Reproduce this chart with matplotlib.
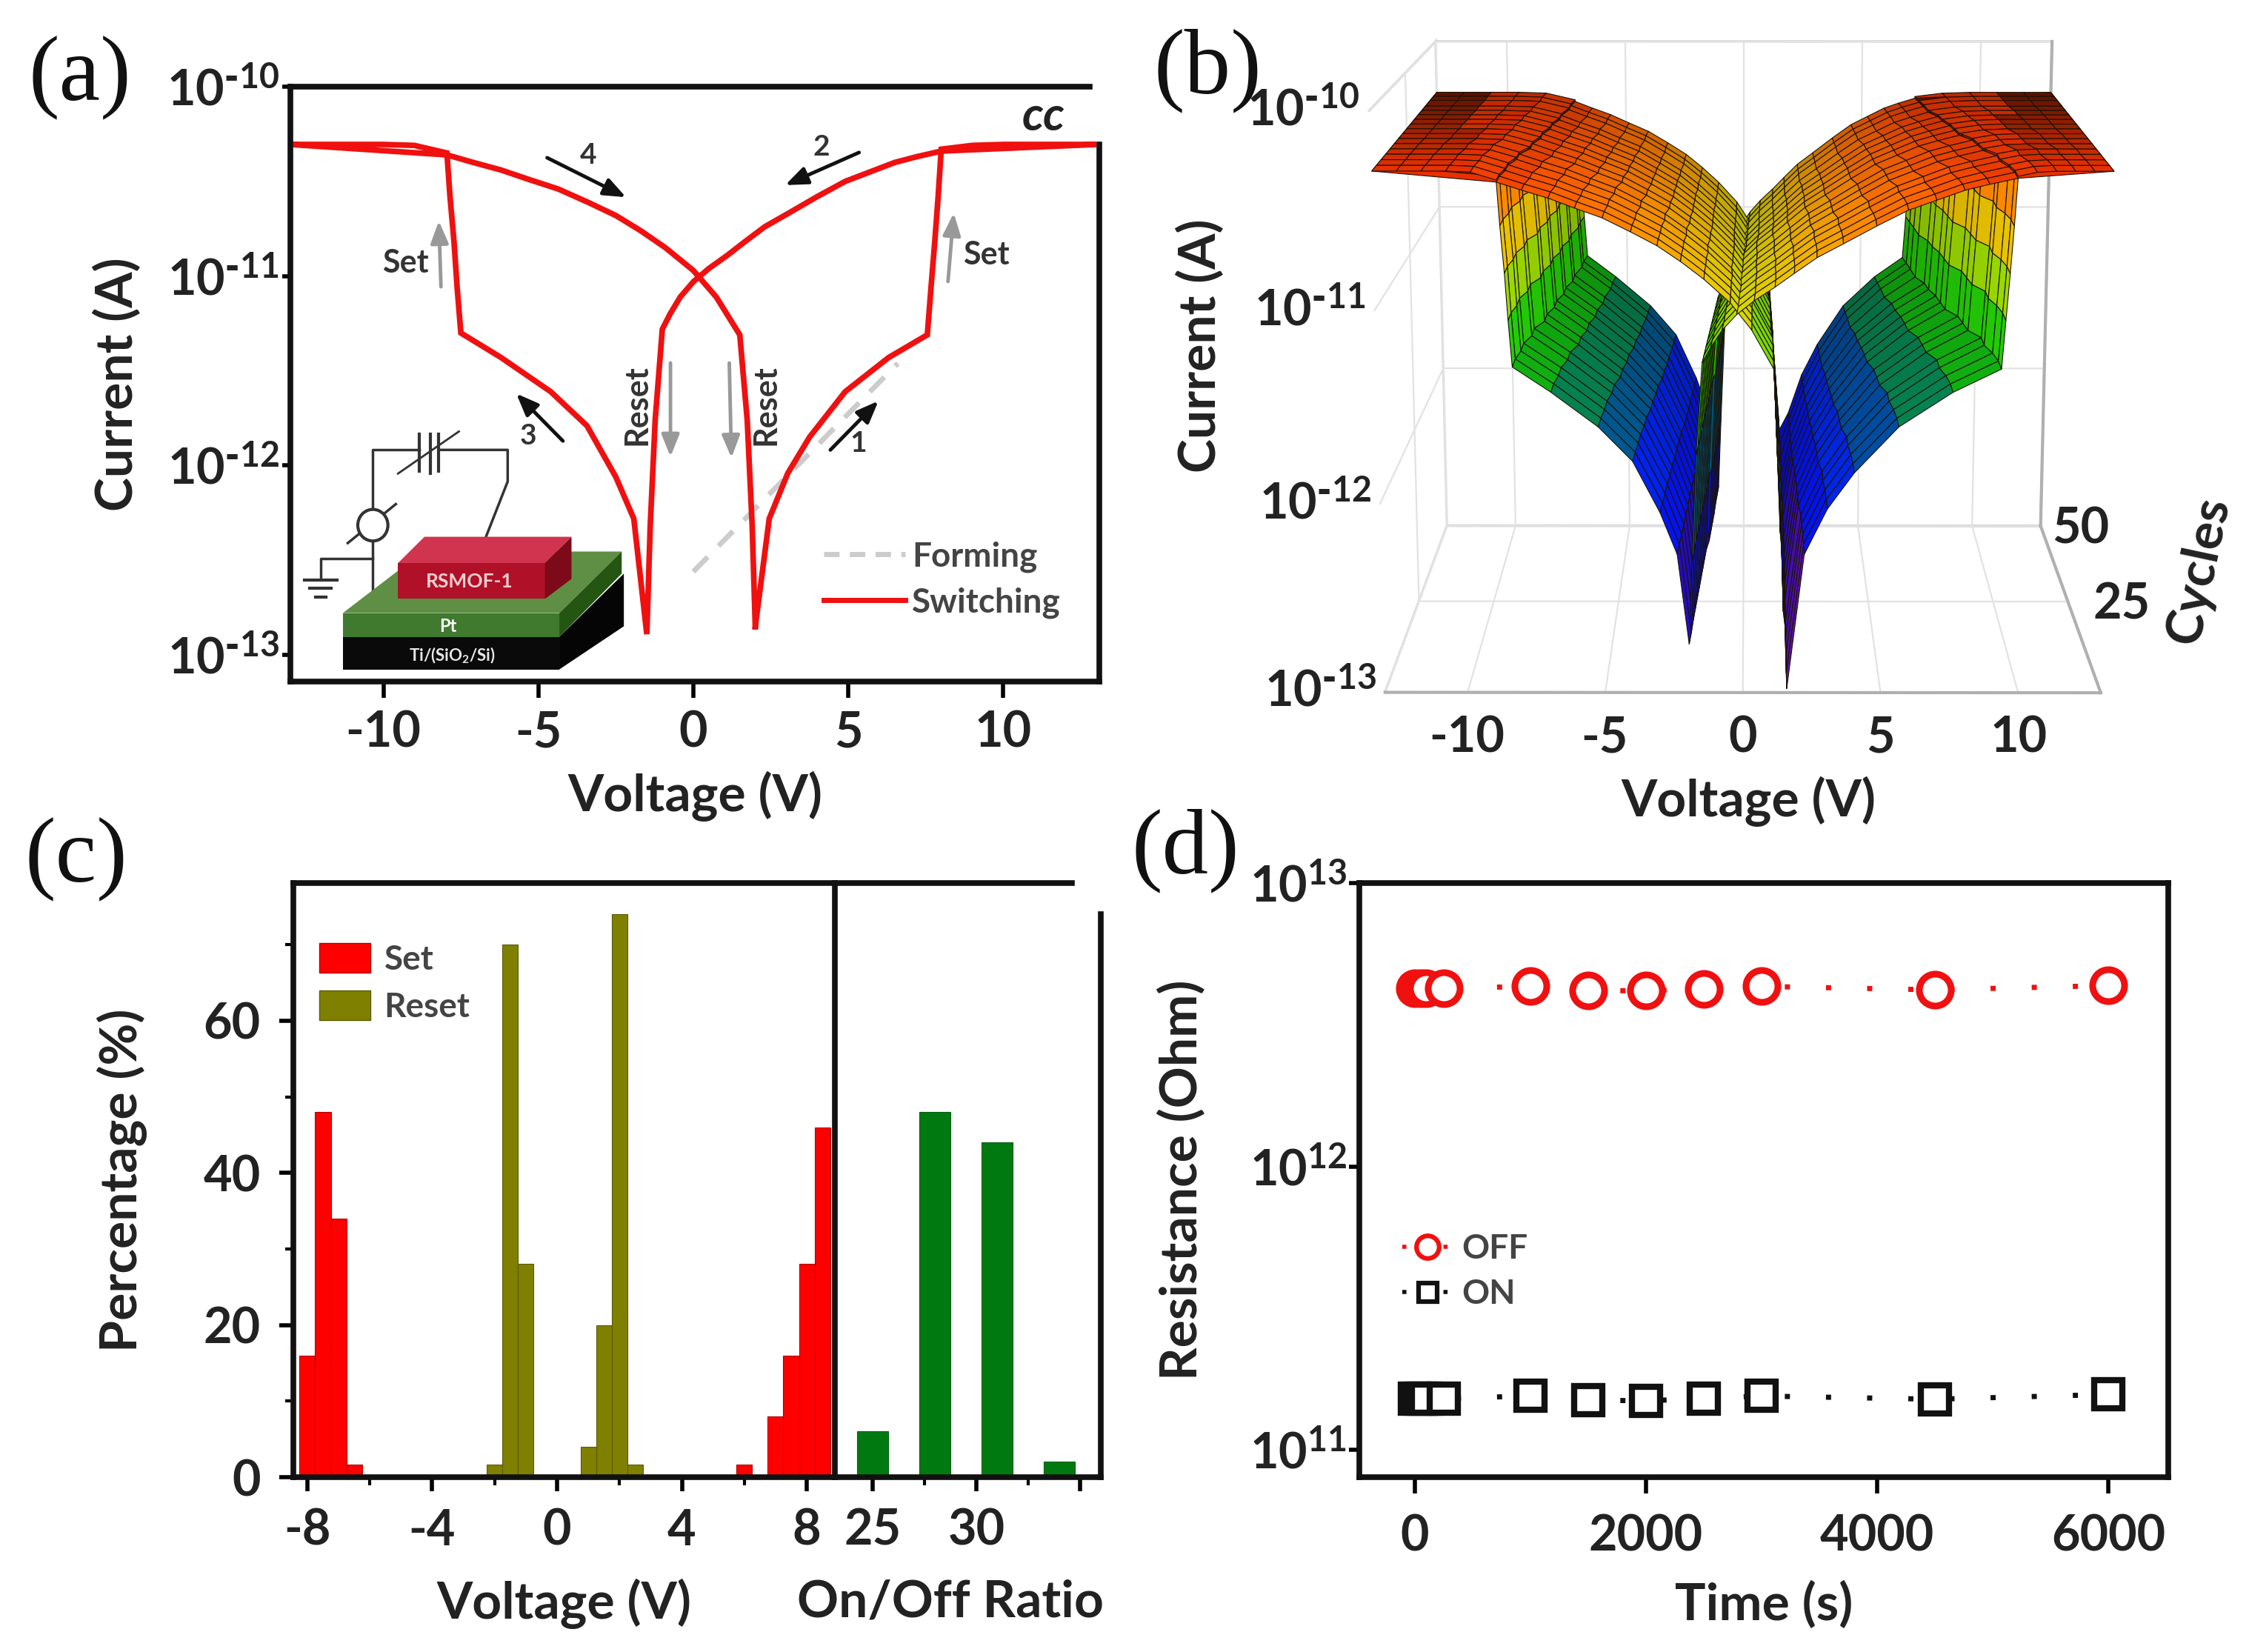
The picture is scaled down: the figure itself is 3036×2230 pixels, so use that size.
import numpy as np
import matplotlib
matplotlib.use("Agg")
import matplotlib.pyplot as plt
from matplotlib.patches import Polygon, Ellipse, Patch
from matplotlib.lines import Line2D
from matplotlib.colors import LinearSegmentedColormap, Normalize
from matplotlib.ticker import NullFormatter

plt.rcParams['font.family'] = ['Lato', 'DejaVu Sans']
plt.rcParams['font.weight'] = 'bold'
plt.rcParams['axes.labelweight'] = 'bold'
plt.rcParams['mathtext.default'] = 'regular'
plt.rcParams['grid.color'] = '#e2e2e2'
plt.rcParams['grid.linewidth'] = 1.6

W, H = 3036, 2230
TXT = '#222222'
FS = 48
LFS = 50

# ---------- panel (a): log10 of current along the switching loop ----------
up_v = [2.0, 2.45, 3.05, 3.75, 4.9, 6.3, 7.55, 7.67, 7.79, 7.9, 8.0]
up_log = [-12.85, -12.28, -12.04, -11.85, -11.61, -11.43, -11.31, -11.06, -10.82, -10.58, -10.33]
plateau_pos_v = [9, 10, 11, 12, 13]
plateau_pos_log = [-10.31, -10.305, -10.305, -10.305, -10.305]
high_pos_v = [8.0, 7.2, 6.5, 5.7, 4.9, 4.0, 3.05, 2.3, 1.65, 1.1, 0.5, 0.0, -0.42, -0.75, -1.0]
high_pos_log = [-10.34, -10.37, -10.40, -10.45, -10.5, -10.58, -10.67, -10.74, -10.82, -10.89, -10.96, -11.03, -11.11, -11.2, -11.28]
drop_neg_v = [-1.23, -1.39, -1.5]
drop_neg_log = [-11.76, -12.32, -12.89]
low_neg_v = [-1.92, -2.5, -3.43, -4.6, -6.2, -7.5, -7.62, -7.72, -7.85, -7.95]
low_neg_log = [-12.28, -12.06, -11.79, -11.61, -11.43, -11.30, -11.06, -10.82, -10.58, -10.35]
plateau_neg_v = [-9, -10, -11, -12, -13]
plateau_neg_log = [-10.31, -10.305, -10.305, -10.305, -10.305]
high_neg_v = [-7.95, -7.1, -6.2, -5.3, -4.36, -3.4, -2.5, -1.7, -0.9, 0.0, 0.74, 1.5]
high_neg_log = [-10.36, -10.40, -10.44, -10.49, -10.54, -10.61, -10.68, -10.76, -10.85, -10.97, -11.11, -11.31]
drop_pos_v = [1.74, 1.9, 2.0]
drop_pos_log = [-11.76, -12.32, -12.85]
forming_v = [0.0, 6.6]
forming_log = [-12.56, -11.46]
current_ticks = [1e-13, 1e-12, 1e-11, 1e-10]
current_labels = [r'$10^{\text{-}13}$', r'$10^{\text{-}12}$', r'$10^{\text{-}11}$', r'$10^{\text{-}10}$']
voltage_ticks = [-10, -5, 0, 5, 10]

# ---------- panel (b): values per cycle ----------
cycles_b = [1, 4, 7, 10, 13, 16, 19, 22, 25, 28, 31, 34, 37, 40, 44, 47, 50]
vset_pos_b = [9.2, 9.2, 9.1, 8.9, 8.9, 8.5, 8.4, 8.3, 7.9, 7.8, 7.7, 7.5, 7.4, 7.1, 7.0, 6.9, 6.8]
vset_neg_b = [-8.2, -8.2, -8.1, -8.1, -7.9, -7.9, -7.6, -7.6, -7.4, -7.4, -7.2, -7.2, -7.0, -7.0, -6.8, -6.8, -6.7]
vdip_pos_b = [1.6, 1.6, 1.6, 1.6, 1.6, 1.55, 1.55, 1.55, 1.55, 1.55, 1.5, 1.5, 1.5, 1.5, 1.5, 1.5, 1.5]
vdip_neg_b = [-1.95, -1.9, -1.85, -1.8, -1.75, -1.7, -1.65, -1.6, -1.55, -1.5, -1.4, -1.35, -1.3, -1.25, -1.2, -1.15, -1.1]
logdip_pos_b = [-13.0, -12.98, -12.95, -12.92, -12.9, -12.88, -12.85, -12.82, -12.8, -12.75, -12.7, -12.65, -12.6, -12.55, -12.5, -12.45, -12.4]
logdip_neg_b = [-12.76, -12.76, -12.75, -12.75, -12.75, -12.75, -12.75, -12.75, -12.75, -12.75, -12.75, -12.75, -12.75, -12.75, -12.75, -12.75, -12.75]

# ---------- panel (c) ----------
set_v = [-8, -7.5, -7, -6.5, 6, 7, 7.5, 8, 8.5]
set_pct = [16, 48, 34, 1.7, 1.7, 8, 16, 28, 46]
reset_v = [-2, -1.5, -1, 1, 1.5, 2, 2.5]
reset_pct = [1.7, 70, 28, 4, 20, 74, 1.7]
ratio = [25, 28, 31, 34]
ratio_pct = [6, 48, 44, 2]

# ---------- panel (d) ----------
time_s = [0, 50, 100, 250, 1000, 1500, 2000, 2500, 3000, 4500, 6000]
r_off = [4.25e12, 4.25e12, 4.25e12, 4.25e12, 4.32e12, 4.17e12, 4.17e12, 4.22e12, 4.32e12, 4.2e12, 4.35e12]
r_on = [1.52e11, 1.52e11, 1.52e11, 1.52e11, 1.55e11, 1.5e11, 1.49e11, 1.52e11, 1.55e11, 1.51e11, 1.57e11]


def pos(l, r, t, b):
    return [l / W, 1 - b / H, (r - l) / W, (b - t) / H]


def style_spines(ax, lw=5.5):
    for s in ax.spines.values():
        s.set_linewidth(lw)
        s.set_color('#111111')


fig = plt.figure(figsize=(W / 100, H / 100), dpi=100, facecolor='white')

# ===================== (a) =====================
ax = fig.add_axes(pos(392, 1484, 117, 920))
path_v = up_v + plateau_pos_v + high_pos_v + drop_neg_v + low_neg_v + plateau_neg_v + high_neg_v + drop_pos_v
path_log = up_log + plateau_pos_log + high_pos_log + drop_neg_log + low_neg_log + plateau_neg_log + high_neg_log + drop_pos_log
ax.semilogy(forming_v, 10.0 ** np.array(forming_log), color='#cccccc', lw=5, ls=(0, (4, 3)))
ax.semilogy(path_v, 10.0 ** np.array(path_log), color='#f01010', lw=5.5, solid_joinstyle='miter')
ax.set_xlim(-13.0, 13.1)
ax.set_ylim(10.0 ** -13.14, 1e-10)
ax.set_xticks(voltage_ticks)
ax.set_xticklabels([str(v) for v in voltage_ticks], fontsize=FS, color=TXT)
ax.set_yticks(current_ticks)
ax.set_yticklabels(current_labels, fontsize=FS, color=TXT)
ax.minorticks_off()
ax.tick_params(axis='x', length=16, width=4, pad=12)
ax.tick_params(axis='y', length=8, width=4, pad=3)
ax.set_xlabel('Voltage (V)', fontsize=LFS, color=TXT, labelpad=14)
ax.set_ylabel('Current (A)', fontsize=LFS, color=TXT, labelpad=24)
style_spines(ax)
ax.spines['top'].set_bounds(-13, 12.8)
ax.spines['right'].set_bounds(10.0 ** -13.14, 10.0 ** -10.305)


def fa(x, y):
    return ((x - 405) / 1128, (1295 - y) / 1130)


def arrow(a, b, c='#111111', lw=3.5):
    ax.annotate('', xy=fa(*b), xytext=fa(*a), xycoords='axes fraction', textcoords='axes fraction',
                arrowprops=dict(arrowstyle='-|>,head_width=0.4,head_length=1.0', color=c, lw=lw, shrinkA=0, shrinkB=0,
                                mutation_scale=18))


def note(x, y, s, fs=31, c='#333333', rot=0, **kw):
    ax.text(*fa(x, y), s, transform=ax.transAxes, fontsize=fs, color=c, rotation=rot, ha='center', va='center', **kw)


arrow((763, 300), (873, 375)); note(820, 295, '4', fs=28)
arrow((1198, 290), (1095, 352)); note(1145, 280, '2', fs=28)
arrow((1158, 855), (1225, 762)); note(1197, 843, '1', fs=28)
arrow((785, 838), (720, 748)); note(737, 828, '3', fs=28)
arrow((615, 545), (612, 420), '#999999'); note(565, 500, 'Set')
arrow((1322, 535), (1330, 405), '#999999'); note(1375, 485, 'Set')
arrow((935, 690), (935, 868), '#999999'); note(888, 770, 'Reset', rot=90)
arrow((1017, 690), (1020, 870), '#999999'); note(1068, 770, 'Reset', rot=90)
note(1455, 222, 'cc', fs=46, c='#222222', style='italic')


def poly(pts, fc):
    ax.add_patch(Polygon([fa(*p) for p in pts], closed=True, transform=ax.transAxes, fc=fc, ec='none', zorder=4))


def wire(pts, lw=2.5, c='#333333'):
    xy = np.array([fa(*p) for p in pts])
    ax.plot(xy[:, 0], xy[:, 1], transform=ax.transAxes, color=c, lw=lw, zorder=3)


poly([(478, 1210), (780, 1210), (780, 1272), (478, 1272)], '#0a0a0a')
poly([(780, 1210), (870, 1090), (870, 1190), (780, 1272)], '#050505')
poly([(478, 1165), (590, 1048), (867, 1048), (780, 1165)], '#5f8f45')
poly([(478, 1165), (780, 1165), (780, 1210), (478, 1210)], '#3f7a2f')
poly([(780, 1165), (867, 1048), (867, 1090), (780, 1210)], '#255512')
poly([(555, 1070), (592, 1020), (797, 1020), (760, 1070)], '#d0344f')
poly([(555, 1070), (760, 1070), (760, 1138), (555, 1138)], '#b01028')
poly([(760, 1070), (797, 1020), (797, 1100), (760, 1138)], '#7c0a18')
note(655, 1105, 'RSMOF-1', fs=19, c='#f2d0d0', zorder=6)
note(625, 1190, 'Pt', fs=17, c='white', zorder=6)
note(630, 1245, 'Ti/(SiO$_2$/Si)', fs=16, c='#e8e8e8', zorder=6)
wire([(520, 1125), (520, 855), (585, 855)])
wire([(612, 855), (708, 855), (708, 915), (672, 1040)])
wire([(585, 825), (585, 895)], 3); wire([(600, 825), (600, 900)], 3); wire([(612, 825), (612, 895)], 3)
wire([(555, 900), (640, 820)], 2)
wire([(520, 1062), (447, 1062), (447, 1100)])
wire([(425, 1102), (470, 1102)], 3); wire([(432, 1118), (462, 1118)], 3); wire([(440, 1135), (455, 1135)], 3)
ax.add_patch(Ellipse(fa(520, 998), 42 / 1128, 60 / 1130, transform=ax.transAxes, fc='white', ec='#333333', lw=3, zorder=3.5))
wire([(485, 1032), (552, 958)], 2.5)

ax.legend(handles=[Line2D([], [], color='#cccccc', lw=5, ls=(0, (3, 2))),
                   Line2D([], [], color='#f01010', lw=5)], labels=['Forming', 'Switching'],
          loc='lower right', bbox_to_anchor=(0.99, 0.055), frameon=False, fontsize=33, labelcolor='#444444',
          handlelength=2.4, handletextpad=0.2, labelspacing=0.42)

# ===================== (b) =====================
ax3 = fig.add_axes(pos(1640, 3036, -92, 1048), projection='3d', proj_type='persp', focal_length=0.62)
ax3.set_facecolor('none')
ax3.patch.set_alpha(0)
ax3.view_init(elev=12.5, azim=-89.9)
ax3.set_box_aspect((1.2, 1.0, 0.98), zoom=1.17)

segments = [
    ('up', up_v + plateau_pos_v, up_log + plateau_pos_log),
    ('hp', high_pos_v, high_pos_log),
    ('dn', drop_neg_v, drop_neg_log),
    ('ln', low_neg_v + plateau_neg_v, low_neg_log + plateau_neg_log),
    ('hn', high_neg_v, high_neg_log),
    ('dp', drop_pos_v, drop_pos_log),
]
Xs, Zs = [], []
for i in range(len(cycles_b)):
    sp, sn, dp, dn = vset_pos_b[i], vset_neg_b[i], vdip_pos_b[i], vdip_neg_b[i]
    rp, rn = dp - 0.5, dn + 0.5
    xr, zr = [], []
    for name, v, z in segments:
        v = np.array(v, float); z = np.array(z, float)
        if name == 'up':
            m = np.interp(v, [2, 7.55, 8, 13], [dp, sp, sp + .45, 13]); z[0] = logdip_pos_b[i]
        elif name == 'hp':
            m = np.interp(v, [-1, 8], [rn, sp + .45])
        elif name == 'dn':
            m = np.interp(v, [-1.5, -1], [dn, rn]); z[-1] = logdip_neg_b[i]
        elif name == 'ln':
            m = np.interp(v, [-13, -7.95, -7.5, -1.92], [-13, sn - .45, sn, dn - .42])
        elif name == 'hn':
            m = np.interp(v, [-7.95, 1.5], [sn - .45, rp])
        else:
            m = np.interp(v, [1.5, 2], [rp, dp]); z[-1] = logdip_pos_b[i]
        xr.append(m); zr.append(z)
    Xs.append(np.concatenate(xr)); Zs.append(np.concatenate(zr))
X = np.array(Xs); Z = np.array(Zs)
Y = np.repeat(np.array(cycles_b, float)[:, None], X.shape[1], axis=1)
cmap = LinearSegmentedColormap.from_list('mof', [
    (0.0, '#5a10a8'), (0.13, '#0a0ad0'), (0.33, '#0018ff'), (0.48, '#006a70'), (0.58, '#10b010'), (0.66, '#30e000'),
    (0.75, '#d8d800'), (0.82, '#f0c000'), (0.9, '#ff8a00'), (0.96, '#ff5a00'), (1.0, '#e83000')])
norm = Normalize(-13.0, -10.3)
fc = cmap(norm(Z))
depth = (Y - 1) / 49
plateau = np.abs(X) > 10
fc[..., :3] *= (1 - 0.2 * depth)[..., None]
fc[..., :3] *= (1 - 0.55 * plateau * depth)[..., None]
ax3.plot_surface(X, Y, Z, facecolors=fc, rstride=1, cstride=1, shade=False, edgecolor='#1a1208', linewidth=0.8,
                 antialiased=True)
ax3.set_xlim(-13, 13)
ax3.set_ylim(0, 50)
ax3.set_zlim(-13, -10)
ax3.set_xticks(voltage_ticks)
ax3.set_yticks([25, 50])
ax3.set_zticks([-13, -12, -11, -10])
for a3 in (ax3.xaxis, ax3.yaxis, ax3.zaxis):
    a3.set_major_formatter(NullFormatter())
    a3.set_tick_params(which='major', label1On=False, label2On=False)
    a3.pane.set_facecolor((1, 1, 1, 0))
    a3.pane.set_edgecolor('#b0b0b0')
    a3.pane.set_linewidth(2.5)
    a3.line.set_color('#b0b0b0')
    a3.line.set_linewidth(3)
    a3._axinfo['tick']['inward_factor'] = 0
    a3._axinfo['tick']['outward_factor'] = 0
for v in voltage_ticks:
    ax3.text(v, -1, -13.1, str(v), fontsize=FS, color=TXT, ha='center', va='top')
for t, lab in zip(ax3.get_zticks(), current_labels):
    ax3.text(-13.3, 0, t, lab, fontsize=FS, color=TXT, ha='right', va='center')
ax3.text(14.0, 25, -13.02, '25', fontsize=FS, color=TXT, ha='left', va='center')
ax3.text(13.5, 50, -13.02, '50', fontsize=FS, color=TXT, ha='left', va='center')
fig.text(1620 / W, 1 - 467 / H, 'Current (A)', rotation=90, fontsize=LFS, color=TXT, ha='center', va='center')
fig.text(2360 / W, 1 - 1082 / H, 'Voltage (V)', fontsize=LFS, color=TXT, ha='center', va='center')
fig.text(2968 / W, 1 - 770 / H, 'Cycles', rotation=78, fontsize=LFS, color=TXT, ha='center', va='center')

# ===================== (c) =====================
c1 = fig.add_axes(pos(396, 1127, 1192, 1994))
c1.bar(set_v, set_pct, width=0.5, color='#ff0000', edgecolor='#b00000', linewidth=0.8)
c1.bar(reset_v, reset_pct, width=0.5, color='#808000', edgecolor='#5a5a00', linewidth=0.8)
c1.set_xlim(-8.45, 8.9)
c1.set_ylim(0, 78.1)
c1.set_xticks([-8, -4, 0, 4, 8])
c1.set_xticklabels(['-8', '-4', '0', '4', '8'], fontsize=FS, color=TXT)
c1.set_xticks([-6, -2, 2, 6], minor=True)
c1.set_yticks([0, 20, 40, 60])
c1.set_yticklabels(['0', '20', '40', '60'], fontsize=FS, color=TXT)
c1.set_yticks([10, 30, 50, 70], minor=True)
c1.tick_params(axis='x', which='major', length=14, width=4, pad=16)
c1.tick_params(axis='y', which='major', length=14, width=4, pad=18)
c1.tick_params(axis='both', which='minor', length=8, width=3)
c1.set_xlabel('Voltage (V)', fontsize=LFS, color=TXT, labelpad=24)
c1.set_ylabel('Percentage (%)', fontsize=LFS, color=TXT, labelpad=54)
style_spines(c1)
c1.legend(handles=[Patch(fc='#ff0000', ec='#b00000'), Patch(fc='#808000', ec='#5a5a00')], labels=['Set', 'Reset'],
          loc='upper left', bbox_to_anchor=(-0.008, 0.95), frameon=False, fontsize=33, labelcolor='#444444',
          handlelength=1.5, handleheight=0.95, handletextpad=0.4, labelspacing=0.45)

c2 = fig.add_axes(pos(1127, 1486, 1192, 1994))
c2.patch.set_visible(False)
c2.bar(ratio, ratio_pct, width=1.5, color='#007a10', edgecolor='#006010', linewidth=0.8)
c2.set_xlim(23.16, 36)
c2.set_ylim(0, 78.1)
c2.set_xticks([25, 30, 35])
c2.set_xticklabels(['25', '30', ''], fontsize=FS, color=TXT)
c2.set_xticks([27.5, 32.5], minor=True)
c2.set_yticks([])
c2.tick_params(axis='x', which='major', length=14, width=4, pad=16)
c2.tick_params(axis='x', which='minor', length=8, width=3)
c2.set_xlabel('On/Off Ratio', fontsize=LFS, color=TXT, labelpad=24, x=0.435)
style_spines(c2)
c2.spines['left'].set_visible(False)
c2.spines['top'].set_bounds(23.16, 34.6)
c2.spines['right'].set_bounds(0, 74)

# ===================== (d) =====================
d = fig.add_axes(pos(1835, 2927, 1192, 1994))
d.semilogy(time_s, r_off, color='#f01010', ls=(0, (1, 7)), lw=5, marker='o', ms=31, mfc='white', mew=6.5, label='OFF')
d.semilogy(time_s, r_on, color='#111111', ls=(0, (1, 7)), lw=5, marker='s', ms=27, mfc='white', mew=6, label='ON')
d.set_xlim(-479, 6517)
d.set_ylim(10.0 ** 10.904, 1e13)
d.set_xticks([0, 2000, 4000, 6000])
d.set_xticklabels(['0', '2000', '4000', '6000'], fontsize=FS, color=TXT)
d.set_yticks([1e11, 1e12, 1e13])
d.set_yticklabels(['$10^{11}$', '$10^{12}$', '$10^{13}$'], fontsize=FS, color=TXT)
d.minorticks_off()
d.tick_params(axis='x', length=16, width=4, pad=20)
d.tick_params(axis='y', length=10, width=4, pad=2)
d.set_xlabel('Time (s)', fontsize=LFS, color=TXT, labelpad=20)
d.set_ylabel('Resistance (Ohm)', fontsize=LFS, color=TXT, labelpad=42)
style_spines(d)
d.legend(handles=[Line2D([], [], color='#f01010', ls=(0, (1, 4)), lw=4, marker='o', ms=22, mfc='white', mew=4.5),
                  Line2D([], [], color='#111111', ls=(0, (1, 4)), lw=4, marker='s', ms=18, mfc='white', mew=4.5)],
         labels=['OFF', 'ON'], loc='lower left', bbox_to_anchor=(0.015, 0.23), frameon=False, fontsize=33,
         labelcolor='#444444', handlelength=1.5, handletextpad=0.25, labelspacing=0.42)

# ===================== panel letters =====================
for s, x, y in [('(a)', 108, 105), ('(b)', 1630, 95), ('(c)', 103, 1160), ('(d)', 1600, 1148)]:
    fig.text(x / W, 1 - y / H, s, family='Liberation Serif', fontweight='normal', fontsize=90, color='#111111',
             ha='center', va='center')

fig.savefig('out.png', dpi=100)
